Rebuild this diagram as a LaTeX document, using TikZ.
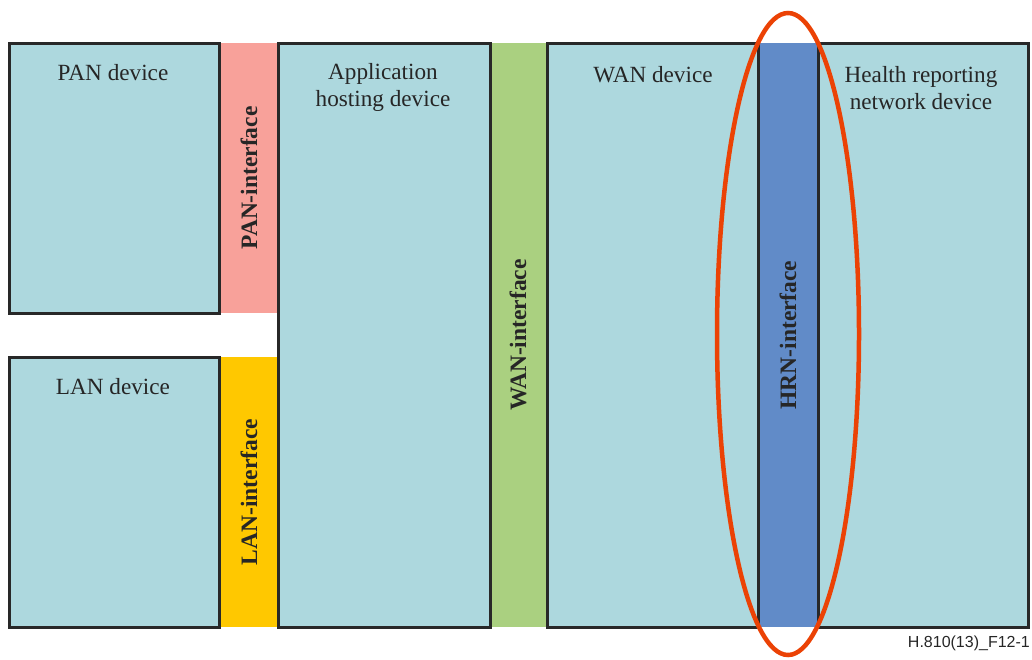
\documentclass[tikz,border=0pt]{standalone}
\usepackage{fontspec}
\setmainfont{Liberation Serif}
\newfontfamily\labelsans{Liberation Sans}
\definecolor{boxblue}{RGB}{173,216,222}
\definecolor{panpink}{RGB}{248,161,154}
\definecolor{lanyellow}{RGB}{255,200,0}
\definecolor{wangreen}{RGB}{170,208,128}
\definecolor{hrnblue}{RGB}{97,139,200}
\definecolor{ringred}{RGB}{235,66,5}
\definecolor{edge}{RGB}{40,40,40}
\tikzset{
  device/.style={draw=edge, line width=3pt, fill=boxblue},
  devtext/.style={font=\fontsize{23.2}{27}\selectfont, align=center, text=black!85},
  ifacetext/.style={font=\bfseries\fontsize{23.5}{27}\selectfont, rotate=90, text=black!85},
}
\begin{document}
\begin{tikzpicture}[x=1pt,y=-1pt]
\useasboundingbox (0,0) rectangle (1032,659);
% interfaces
\fill[panpink] (219,43) rectangle (278,313);
\fill[lanyellow] (219,357) rectangle (278,627);
\fill[wangreen] (490,43) rectangle (547,627);
\fill[hrnblue] (758,43) rectangle (818,627);
% devices
\draw[device] (9,43) rectangle (219,313);
\draw[device] (9,357) rectangle (219,627);
\draw[device] (278,43) rectangle (490,627);
\draw[device] (547,43) rectangle (758,627);
\draw[device] (818,43) rectangle (1028,627);
% device labels
\node[devtext] (pan) at (113,73) {PAN device};
\node[devtext] (lan) at (113,387) {LAN device};
\node[devtext] (app) at (383,87) {Application\\hosting device};
\node[devtext] (wan) at (653,75) {WAN device};
\node[devtext] (hrn) at (921,88) {Health reporting\\network device};
% interface labels
\node[ifacetext] (pani) at (249,178) {PAN-interface};
\node[ifacetext] (lani) at (249,492) {LAN-interface};
\node[ifacetext] (wani) at (518,335) {WAN-interface};
\node[ifacetext] (hrni) at (788,335) {HRN-interface};
% ring
\draw[ringred, line width=4.5pt] (788,334) ellipse [x radius=71, y radius=321];
% figure id
\node[font=\labelsans\fontsize{16}{18}\selectfont, anchor=east, text=black!85, inner sep=1pt] (fig) at (1031,643) {H.810(13)\_F12-1};
\end{tikzpicture}
\end{document}
